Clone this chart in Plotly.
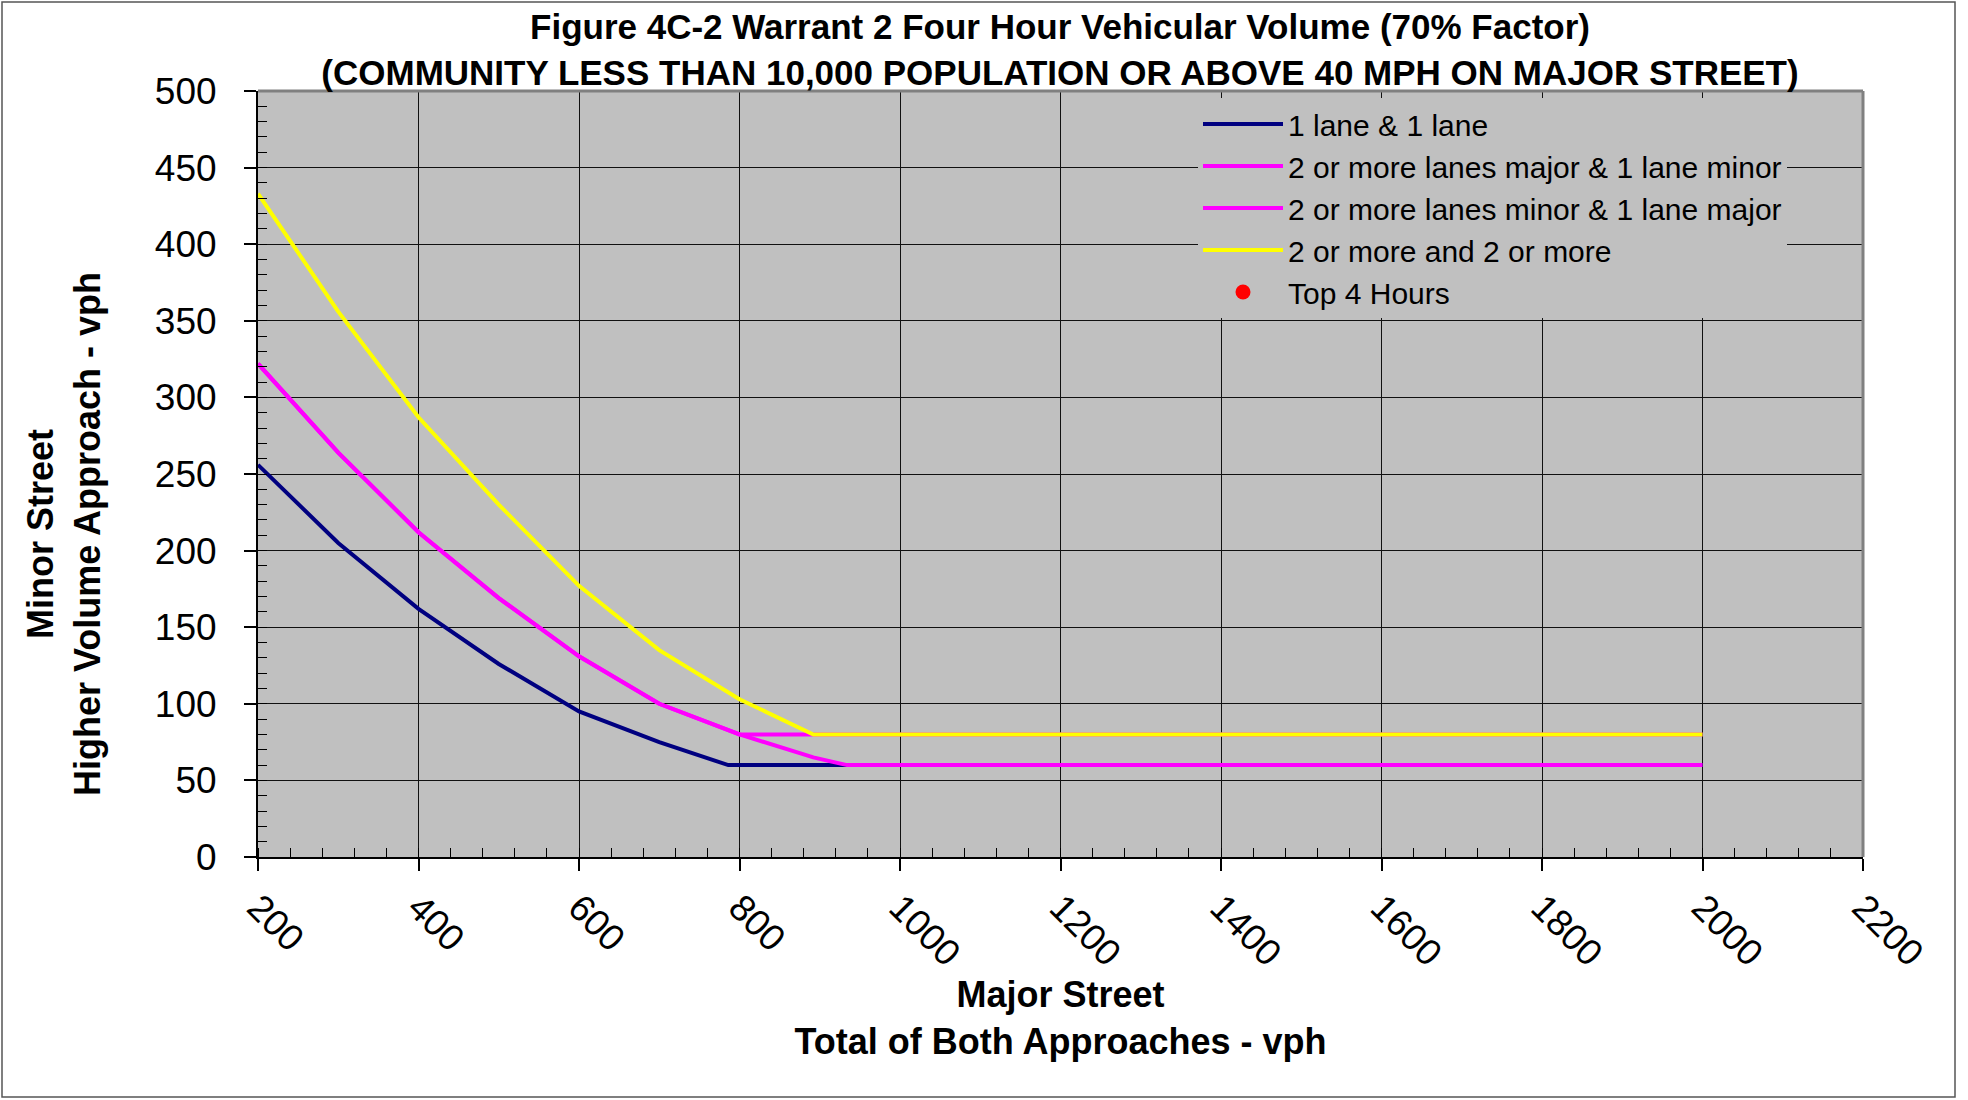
import plotly.graph_objects as go

# ---- data ----
x_one = [200, 300, 400, 500, 600, 700, 786, 2000]
y_one = [256, 205, 162, 126, 95, 75, 60, 60]

x_major2 = [200, 300, 400, 500, 600, 700, 800, 892, 934, 2000]
y_major2 = [322, 264, 212, 169, 131, 100, 80, 65, 60, 60]

x_minor2 = [200, 300, 400, 500, 600, 700, 800, 2000]
y_minor2 = [322, 264, 212, 169, 131, 100, 80, 80]

x_two = [200, 300, 400, 500, 600, 700, 800, 892, 2000]
y_two = [433, 356, 287, 230, 177, 135, 103, 80, 80]

# "Top 4 Hours" series has no plotted points in the reference
x_top4 = [None]
y_top4 = [None]

names = ["1 lane & 1 lane",
         "2 or more lanes major & 1 lane minor",
         "2 or more lanes minor & 1 lane major",
         "2 or more and 2 or more",
         "Top 4 Hours"]

x_ticks = list(range(200, 2201, 200))
y_ticks = list(range(0, 501, 50))

title_text = ("Figure 4C-2 Warrant 2 Four Hour Vehicular Volume (70% Factor)<br>"
              "(COMMUNITY LESS THAN 10,000 POPULATION OR ABOVE 40 MPH ON MAJOR STREET)")
x_title = "Major Street<br>Total of Both Approaches - vph"
y_title = "Minor Street<br>Higher Volume Approach - vph"

FONT = "Liberation Sans, Arial, sans-serif"

W, H = 1968, 1100
L, R, T, B = 258, 105, 91, 243
PW, PH = W - L - R, H - T - B

def px_to_paper_x(px):
    return (px - L) / PW

def px_to_paper_y(py):
    return (H - B - py) / PH

fig = go.Figure()
fig.add_trace(go.Scatter(x=x_one, y=y_one, mode="lines", name=names[0],
                         line=dict(color="#000080", width=4)))
fig.add_trace(go.Scatter(x=x_major2, y=y_major2, mode="lines", name=names[1],
                         line=dict(color="#FF00FF", width=4)))
fig.add_trace(go.Scatter(x=x_minor2, y=y_minor2, mode="lines", name=names[2],
                         line=dict(color="#FF00FF", width=4)))
fig.add_trace(go.Scatter(x=x_two, y=y_two, mode="lines", name=names[3],
                         line=dict(color="#FFFF00", width=4)))
fig.add_trace(go.Scatter(x=x_top4, y=y_top4, mode="markers", name=names[4],
                         marker=dict(color="#FF0000", size=15)))

axis_common = dict(
    showgrid=True, gridcolor="#111111", gridwidth=1,
    zeroline=False, showline=True, linecolor="black", linewidth=2,
    ticks="outside", ticklen=12, tickwidth=1.5, tickcolor="black",
    tickfont=dict(family=FONT, size=37, color="black"),
)

fig.update_xaxes(range=[200, 2200], tickvals=x_ticks, tickangle=45,
                 minor=dict(ticks="inside", ticklen=9, dtick=40, tick0=200,
                            tickcolor="black", tickwidth=1.2, showgrid=False),
                 title=dict(text=x_title, standoff=8,
                            font=dict(family=FONT, size=36, color="black", weight="bold")),
                 **axis_common)
fig.update_yaxes(range=[0, 500], tickvals=y_ticks, ticklabelstandoff=20,
                 minor=dict(ticks="inside", ticklen=9, dtick=10, tick0=0,
                            tickcolor="black", tickwidth=1.2, showgrid=False),
                 **axis_common)

shapes = [
    # gray plot-area border on top and right
    dict(type="line", xref="x domain", yref="y domain", x0=0, x1=1, y0=1, y1=1,
         line=dict(color="#808080", width=3), layer="above"),
    dict(type="line", xref="x domain", yref="y domain", x0=1, x1=1, y0=0, y1=1,
         line=dict(color="#808080", width=3), layer="above"),
    # outer frame of the chart
    dict(type="rect", xref="paper", yref="paper",
         x0=px_to_paper_x(2), x1=px_to_paper_x(1955),
         y0=px_to_paper_y(1097), y1=px_to_paper_y(2),
         line=dict(color="#555555", width=1.5), layer="below"),
]

fig.update_layout(
    width=W, height=H,
    margin=dict(l=L, r=R, t=T, b=B, pad=0),
    paper_bgcolor="white", plot_bgcolor="#C0C0C0",
    font=dict(family=FONT, color="black"),
    title=dict(text=title_text, x=px_to_paper_x(1060), xref="paper", xanchor="center",
               y=1 - 39 / H, yref="container", yanchor="middle",
               font=dict(family=FONT, size=35, color="black", weight="bold")),
    legend=dict(x=px_to_paper_x(1198), y=px_to_paper_y(98), xanchor="left", yanchor="top",
                bgcolor="#C0C0C0", borderwidth=0, itemwidth=80, itemsizing="trace",
                font=dict(family=FONT, size=30, color="black")),
    annotations=[dict(text=y_title, xref="paper", yref="paper",
                      x=px_to_paper_x(64), y=px_to_paper_y(534),
                      xanchor="center", yanchor="middle", textangle=-90, showarrow=False,
                      font=dict(family=FONT, size=36, color="black", weight="bold"))],
    shapes=shapes,
    showlegend=True,
)

fig.write_html("out.html", config={"displayModeBar": False},
               post_script="document.body.style.margin='0';document.body.style.overflow='hidden';")
